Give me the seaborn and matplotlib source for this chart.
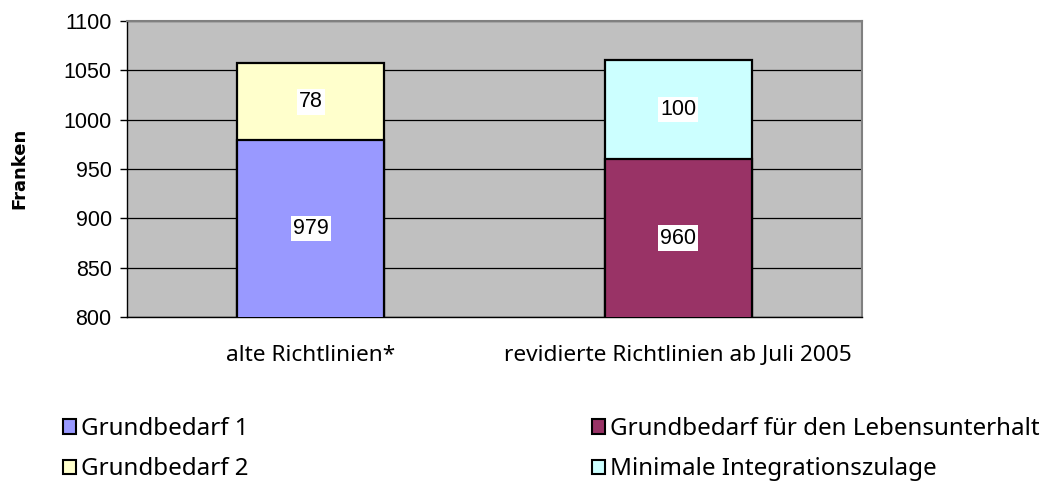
import matplotlib
matplotlib.use("Agg")
import numpy as np
import pandas as pd
import matplotlib.pyplot as plt
from matplotlib.patches import Patch
import seaborn as sns

categories = ["alte Richtlinien*", "revidierte Richtlinien ab Juli 2005"]
base_labels = ["Grundbedarf 1", "Grundbedarf für den Lebensunterhalt"]
top_labels = ["Grundbedarf 2", "Minimale Integrationszulage"]
base_values = [979, 960]
top_values = [78, 100]
base_colors = ["#9999FF", "#993366"]
top_colors = ["#FFFFCC", "#CCFFFF"]
y_ticks = [800, 850, 900, 950, 1000, 1050, 1100]
y_label = "Franken"

TEXT_FONT = ["Noto Sans", "DejaVu Sans"]
NUM_FONT = ["Liberation Sans", "DejaVu Sans"]

sns.set_style("white")
plt.rcParams["font.family"] = TEXT_FONT
plt.rcParams["text.color"] = "black"
plt.rcParams["xtick.color"] = "black"
plt.rcParams["ytick.color"] = "black"

df = pd.DataFrame({
    "cat": categories,
    "base": base_values,
    "top": top_values,
})
df["total"] = df["base"] + df["top"]

fig = plt.figure(figsize=(10.44, 4.84), dpi=100)
ax = fig.add_axes([127 / 1044, 1 - 317 / 484, 735 / 1044, 296 / 484])
ax.set_facecolor("#C0C0C0")

# stacked look: draw totals first, then the base segment over them
sns.barplot(data=df, x="cat", y="total", hue="cat", palette=top_colors,
            saturation=1, width=0.4, edgecolor="black", linewidth=1.6,
            legend=False, ax=ax, zorder=3)
sns.barplot(data=df, x="cat", y="base", hue="cat", palette=base_colors,
            saturation=1, width=0.4, edgecolor="black", linewidth=1.6,
            legend=False, ax=ax, zorder=4)

ax.set_ylim(y_ticks[0], y_ticks[-1])
ax.set_xlim(-0.5, 1.5)
ax.set_yticks(y_ticks)
ax.set_yticklabels([str(v) for v in y_ticks], fontsize=15.5, family=NUM_FONT)
ax.yaxis.grid(True, color="black", linewidth=0.9)
ax.set_axisbelow(True)

ax.set_xticks([0, 1])
ax.set_xticklabels(categories, fontsize=16.3)
ax.set_xticks([-0.5, 0.5, 1.5], minor=True)
ax.tick_params(axis="x", which="major", length=0, pad=20)
ax.tick_params(axis="x", which="minor", length=6, width=1, color="black")
ax.tick_params(axis="y", length=5, width=1, color="black", left=True, pad=6)
ax.set_xlabel("")
ax.set_ylabel("")

fig.text(19 / 1044, 1 - 168 / 484, y_label, rotation=90, ha="center", va="center",
         fontsize=13, fontweight="bold", family=["DejaVu Sans"])

for side in ["left", "bottom"]:
    ax.spines[side].set_color("black")
    ax.spines[side].set_linewidth(1)
for side in ["top", "right"]:
    ax.spines[side].set_visible(True)
    ax.spines[side].set_color("#808080")
    ax.spines[side].set_linewidth(1.5)

lo = y_ticks[0]
for i in range(len(categories)):
    b = df["base"][i]
    t = df["total"][i]
    for y, v in [((lo + b) / 2, df["base"][i]), ((b + t) / 2, df["top"][i])]:
        ax.text(i, y, str(v), ha="center", va="center", fontsize=15.5,
                family=NUM_FONT, zorder=6,
                bbox=dict(facecolor="white", edgecolor="none", pad=1.5))

def handles(labels, colors):
    return [Patch(facecolor=c, edgecolor="black", linewidth=1.5, label=l)
            for l, c in zip(labels, colors)]

leg_kw = dict(frameon=False, fontsize=17.4, handlelength=0.55, handleheight=0.55,
              handletextpad=0.2, labelspacing=0.68, borderpad=0, borderaxespad=0,
              loc="upper left")
fig.legend(handles=handles([base_labels[0], top_labels[0]], [base_colors[0], top_colors[0]]),
           bbox_to_anchor=(63 / 1044, 1 - 417 / 484), **leg_kw)
fig.legend(handles=handles([base_labels[1], top_labels[1]], [base_colors[1], top_colors[1]]),
           bbox_to_anchor=(592 / 1044, 1 - 417 / 484), **leg_kw)

fig.savefig("out.png", dpi=100)
